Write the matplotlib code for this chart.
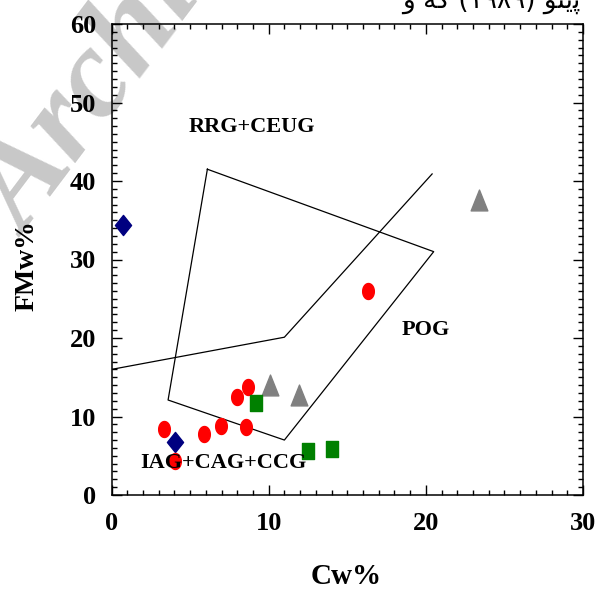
import numpy as np
import matplotlib
matplotlib.use("Agg")
import matplotlib.pyplot as plt
from matplotlib.path import Path
from matplotlib.ticker import MultipleLocator

# ---------------- data ----------------
# discrimination field boundaries (Cw%, FMw%)
line_x = [0.0, 11.0, 20.4]
line_y = [16.0, 20.1, 40.9]
poly_x = [6.1, 20.5, 11.0, 3.6, 6.1]
poly_y = [41.5, 31.0, 7.0, 12.1, 41.5]

# samples
diamond_x = [0.7, 4.05]
diamond_y = [34.4, 6.7]
ellipse_x = [3.35, 4.05, 5.9, 6.95, 8.55, 8.0, 8.7, 16.3]
ellipse_y = [8.4, 4.3, 7.8, 8.8, 8.7, 12.5, 13.8, 26.0]
triangle_x = [10.1, 11.9, 23.4]
triangle_y = [14.0, 12.8, 37.6]
square_x = [9.2, 12.5, 14.05]
square_y = [11.7, 5.6, 5.8]

field_labels = ["RRG+CEUG", "POG", "IAG+CAG+CCG"]
field_label_x = [8.9, 20.0, 7.1]
field_label_y = [46.9, 21.0, 4.1]

x_ticks = [0, 10, 20, 30]
y_ticks = [0, 10, 20, 30, 40, 50, 60]

# ---------------- markers ----------------
t = np.linspace(0, 2 * np.pi, 60)
ellipse_marker = Path(np.column_stack([0.73 * np.cos(t), np.sin(t)]), closed=True)
diamond_marker = Path([(0, 1), (0.8, 0), (0, -1), (-0.8, 0), (0, 1)], closed=True)
triangle_marker = Path([(-0.8, -1), (0.8, -1), (0, 1), (-0.8, -1)], closed=True)
square_marker = Path([(-0.8, -1), (0.8, -1), (0.8, 1), (-0.8, 1), (-0.8, -1)], closed=True)

serif = ["Liberation Serif", "DejaVu Serif"]

fig = plt.figure(figsize=(5.96, 5.90), dpi=100)
fig.patch.set_facecolor("white")
ax = fig.add_axes([111.5 / 596, 95 / 590, 471.5 / 596, 471 / 590])
ax.patch.set_alpha(0)

# watermark behind axes
fig.text(26 / 596, 1 - 238 / 590, "Archive of SID", rotation=53,
         rotation_mode="anchor", ha="left", va="baseline",
         fontsize=92, fontweight="bold", fontstyle="italic",
         family=serif, color="#c8c8c8", zorder=-5)

# partial Persian caption at top (visual order presentation forms)
fig.text(580 / 596, 1 - 8 / 590,
         "\uFEED \uFEEA\uFB90 (\u06F1\u06F9\u06F8\u06F9) \uFEEE\uFE98\uFBFE\uFB58",
         ha="right", va="baseline", fontsize=19, family=["DejaVu Sans"],
         color="black", zorder=-4)

ax.plot(line_x, line_y, color="black", lw=0.9, zorder=2)
ax.plot(poly_x, poly_y, color="black", lw=0.9, zorder=2)

ax.plot(diamond_x, diamond_y, ls="none", marker=diamond_marker, ms=14.5,
        color="#000080", mec="#000080", zorder=3)
ax.plot(ellipse_x, ellipse_y, ls="none", marker=ellipse_marker, ms=11.5,
        color="#ff0000", mec="#ff0000", zorder=3)
ax.plot(triangle_x, triangle_y, ls="none", marker=triangle_marker, ms=15,
        color="#808080", mec="#808080", zorder=3)
ax.plot(square_x, square_y, ls="none", marker=square_marker, ms=11,
        color="#008000", mec="#008000", zorder=3)

for lab, lx, ly in zip(field_labels, field_label_x, field_label_y):
    ax.text(lx, ly, lab, ha="center", va="center", fontsize=16,
            fontweight="bold", family=serif, zorder=4)

ax.set_xlim(0, 30)
ax.set_ylim(0, 60)
ax.set_xticks(x_ticks)
ax.set_yticks(y_ticks)
ax.xaxis.set_minor_locator(MultipleLocator(1))
ax.yaxis.set_minor_locator(MultipleLocator(1))
ax.tick_params(which="both", direction="in", top=True, right=True,
               width=1.0, color="black")
ax.tick_params(which="major", length=7.5)
ax.tick_params(which="minor", length=3.8)
ax.tick_params(axis="x", pad=12)
ax.tick_params(axis="y", pad=11)
for lbl in ax.get_xticklabels() + ax.get_yticklabels():
    lbl.set_fontsize(19)
    lbl.set_fontweight("bold")
    lbl.set_family(serif)
for sp in ax.spines.values():
    sp.set_linewidth(1.1)

fig.text(346 / 596, 1 - 577 / 590, "Cw%", ha="center", va="center",
         fontsize=21, fontweight="bold", family=serif)
fig.text(27 / 596, 1 - 266 / 590, "FMw%", ha="center", va="center",
         rotation=90, fontsize=20, fontweight="bold", family=serif)

fig.savefig("out.png", dpi=100, facecolor="white")
